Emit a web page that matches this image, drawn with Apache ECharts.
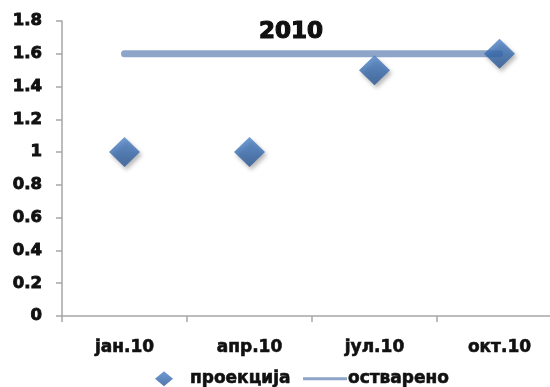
<!DOCTYPE html>
<html>
<head>
<meta charset="utf-8">
<script src="https://cdn.jsdelivr.net/npm/echarts@6/dist/echarts.min.js"></script>
<style>
  html, body { margin: 0; padding: 0; background: #fff; }
  #chart { width: 550px; height: 387px; }
</style>
</head>
<body>
<div id="chart"></div>
<script>
// Quarterly projection vs. achieved value, 2010
const categories = ['јан.10', 'апр.10', 'јул.10', 'окт.10'];
const projection = [1, 1, 1.5, 1.6];
const achieved = [1.6, 1.6, 1.6, 1.6];
const yTicks = { min: 0, max: 1.8, interval: 0.2 };

const FONT = '"DejaVu Sans", Verdana, sans-serif';
// heavy black text: bold face plus a thin outline in the same colour
const labelStyle = {
  fontFamily: FONT, fontWeight: 'bold', fontSize: 17, color: '#111111',
  textBorderColor: '#111111', textBorderWidth: 0.6
};

const chart = echarts.init(document.getElementById('chart'), null, { renderer: 'canvas' });

chart.setOption({
  animation: false,
  backgroundColor: '#ffffff',
  title: {
    text: '2010',
    left: 286,
    top: 16,
    textAlign: 'center',
    textStyle: {
      fontFamily: FONT, fontWeight: 'bold', fontSize: 23, color: '#111111',
      textBorderColor: '#111111', textBorderWidth: 1.2
    }
  },
  legend: [
    {
      data: [{ name: 'проекција', icon: 'diamond' }],
      left: 150,
      top: 365,
      itemWidth: 18,
      itemHeight: 15,
      textStyle: Object.assign({}, labelStyle, { padding: [0, 0, 0, 12] })
    },
    {
      data: [{ name: 'остварено', icon: 'rect' }],
      left: 298,
      top: 365,
      itemWidth: 44,
      itemHeight: 3,
      textStyle: Object.assign({}, labelStyle, { padding: [0, 0, 0, -4] })
    }
  ],
  grid: { left: 62, top: 21, width: 500, bottom: 71, containLabel: false, outerBoundsMode: 'none' },
  xAxis: {
    type: 'category',
    data: categories,
    boundaryGap: true,
    axisLine: { lineStyle: { color: '#a6a6a6', width: 1.5 } },
    axisTick: { show: true, length: 6, alignWithLabel: false, lineStyle: { color: '#a6a6a6', width: 1.5 } },
    axisLabel: Object.assign({ margin: 23 }, labelStyle),
    splitLine: { show: false }
  },
  yAxis: {
    type: 'value',
    min: yTicks.min,
    max: yTicks.max,
    interval: yTicks.interval,
    axisLine: { show: true, lineStyle: { color: '#a6a6a6', width: 1.5 } },
    axisTick: { show: true, length: 6, lineStyle: { color: '#a6a6a6', width: 1.5 } },
    axisLabel: Object.assign({ margin: 20, formatter: v => String(+v.toFixed(1)) }, labelStyle, { fontSize: 16.5, textBorderWidth: 0.9 }),
    splitLine: { show: false }
  },
  series: [
    {
      name: 'остварено',
      type: 'line',
      data: achieved,
      symbol: 'none',
      z: 2,
      lineStyle: { color: '#8ea5ca', width: 7, cap: 'round' },
      itemStyle: { color: '#8ea5ca' }
    },
    {
      name: 'проекција',
      type: 'scatter',
      data: projection,
      symbol: 'diamond',
      symbolSize: [31, 30],
      z: 3,
      itemStyle: {
        color: new echarts.graphic.LinearGradient(0, 0, 0, 1, [
          { offset: 0, color: '#4e84c8' },
          { offset: 0.5, color: '#386cb0' },
          { offset: 1, color: '#2a5590' }
        ]),
        shadowColor: 'rgba(0,0,0,0.35)',
        shadowBlur: 4,
        shadowOffsetX: 2,
        shadowOffsetY: 3
      }
    }
  ]
});
</script>
</body>
</html>
